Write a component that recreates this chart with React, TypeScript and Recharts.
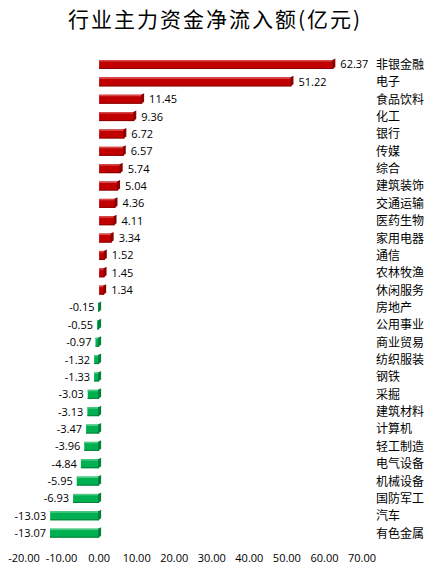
import { BarChart, Bar, XAxis, YAxis, Cell, LabelList } from "recharts";

const categories = [
  "非银金融", "电子", "食品饮料", "化工", "银行", "传媒", "综合",
  "建筑装饰", "交通运输", "医药生物", "家用电器", "通信", "农林牧渔", "休闲服务",
  "房地产", "公用事业", "商业贸易", "纺织服装", "钢铁", "采掘", "建筑材料",
  "计算机", "轻工制造", "电气设备", "机械设备", "国防军工", "汽车", "有色金属",
];
const netInflow = [
  62.37, 51.22, 11.45, 9.36, 6.72, 6.57, 5.74, 5.04, 4.36, 4.11, 3.34, 1.52, 1.45, 1.34,
  -0.15, -0.55, -0.97, -1.32, -1.33, -3.03, -3.13, -3.47, -3.96, -4.84, -5.95, -6.93, -13.03, -13.07,
];
const xTicks = [-20, -10, 0, 10, 20, 30, 40, 50, 60, 70];

const data = categories.map((name, i) => ({ name, value: netInflow[i] }));

const RED = "#c00000";
const GREEN = "#00b050";

// 3D-ish bar: body + top highlight + darker end cap
const Bar3D = (props: any) => {
  const { x, y, width, height, value } = props;
  const x0 = Math.min(x, x + width);
  const w = Math.abs(width);
  const pos = value >= 0;
  const body = pos ? RED : GREEN;
  const dark = pos ? "#8b0000" : "#00803a";
  const light = pos ? "#d84a4a" : "#4cc985";
  const capW = 3;
  const right = x0 + w;
  return (
    <g>
      <rect x={x0} y={y} width={w} height={height} fill={body} />
      <rect x={x0} y={y} width={w} height={1.5} fill={light} />
      <rect x={x0} y={y + height - 1} width={w} height={1} fill={dark} />
      <path
        d={`M${right - 1},${y} L${right + capW - 1},${y - 1.5} L${right + capW - 1},${y + height - 2} L${right - 1},${y + height} Z`}
        fill={dark}
      />
    </g>
  );
};

const ValueLabel = (props: any) => {
  const { x, y, width, height, value } = props;
  const x0 = Math.min(x, x + width);
  const w = Math.abs(width);
  const pos = value >= 0;
  return (
    <text
      x={pos ? x0 + w + 7 : x0 - 4}
      y={y + height / 2}
      dy="0.36em"
      textAnchor={pos ? "start" : "end"}
      fontSize={11}
      fill="#000"
      fontFamily="'Open Sans', 'Liberation Sans', sans-serif"
    >
      {value.toFixed(2)}
    </text>
  );
};

const CategoryTick = ({ x, y, payload }: any) => (
  <text
    x={x + 6}
    y={y}
    dy="0.36em"
    textAnchor="start"
    fontSize={12}
    fill="#000"
    fontFamily="'Noto Sans CJK SC', sans-serif"
  >
    {payload.value}
  </text>
);

export default function App() {
  return (
    <div style={{ position: "absolute", left: 0, top: 0, width: 430, height: 575, background: "#fff" }}>
      <div
        style={{
          position: "absolute",
          top: 3,
          left: 0,
          width: 430,
          textAlign: "center",
          fontSize: 21,
          letterSpacing: 2,
          fontFamily: "'Noto Sans CJK SC', sans-serif",
          color: "#000",
        }}
      >
        行业主力资金净流入额(亿元)
      </div>
      <BarChart
        width={430}
        height={575}
        data={data}
        layout="vertical"
        margin={{ top: 56, right: 0, left: 24, bottom: 13 }}
        barCategoryGap={0}
      >
        <XAxis
          type="number"
          domain={[-20, 70]}
          ticks={xTicks}
          interval={0}
          axisLine={false}
          tickLine={false}
          tickMargin={6}
          height={20}
          tickFormatter={(v) => v.toFixed(2)}
          tick={{ fill: "#000", fontSize: 11, fontFamily: "'Open Sans', 'Liberation Sans', sans-serif" }}
        />
        <YAxis
          type="category"
          dataKey="name"
          orientation="right"
          width={68}
          axisLine={false}
          tickLine={false}
          interval={0}
          tick={<CategoryTick />}
        />
        <Bar dataKey="value" barSize={9} shape={<Bar3D />} isAnimationActive={false}>
          {data.map((d) => (
            <Cell key={d.name} fill={d.value >= 0 ? RED : GREEN} />
          ))}
          <LabelList dataKey="value" content={<ValueLabel />} />
        </Bar>
      </BarChart>
    </div>
  );
}
